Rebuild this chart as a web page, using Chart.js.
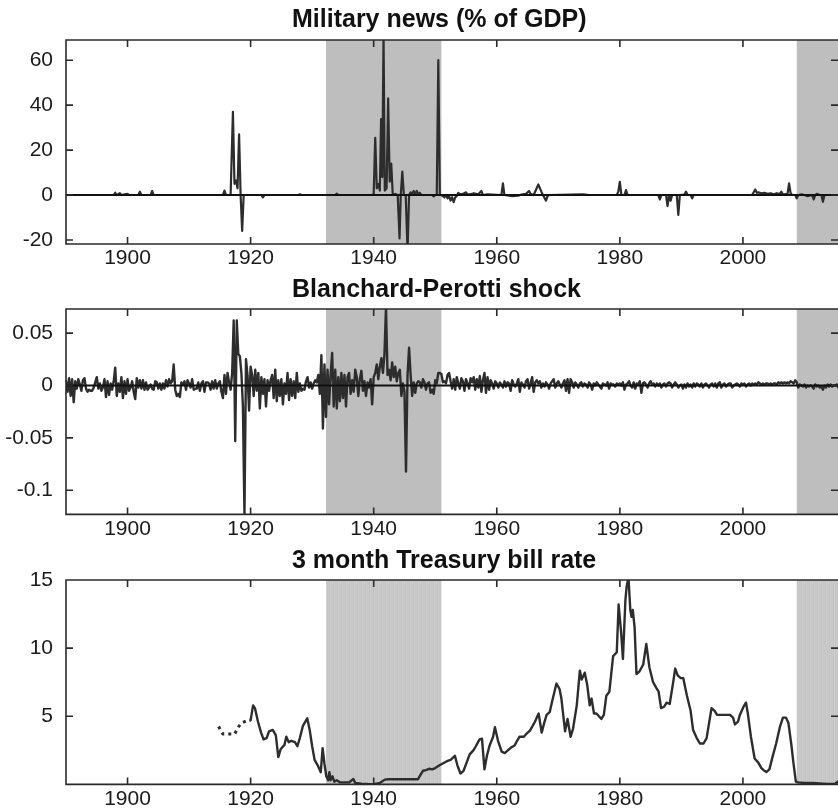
<!DOCTYPE html>
<html><head><meta charset="utf-8">
<script src="https://cdn.jsdelivr.net/npm/chart.js@4.4.1/dist/chart.umd.min.js"></script>
<style>
html,body{margin:0;padding:0;background:#fff;overflow:hidden;}
canvas{position:absolute;left:0;}
</style></head><body>
<canvas id="c1" width="838" height="270" style="top:0px"></canvas>
<canvas id="c2" width="838" height="270" style="top:270px"></canvas>
<canvas id="c3" width="838" height="270" style="top:540px"></canvas>
<script>
// ---------- shared axis data ----------
const axisMinYear = 1890;
const axisMaxYear = 2015.45;
const xTickYears = [1900, 1920, 1940, 1960, 1980, 2000];
const shadeStarts = [1932.25, 2008.75];
const shadeEnds = [1951.0, 2016];

// ---------- panel 1: Military news (% of GDP) ----------
const militaryTitle = "Military news (% of GDP)";
const militaryTicks = [-20, 0, 20, 40, 60];
const militaryRange = [-21.8, 69];
const militaryYears = [
  1890, 1897.75, 1898, 1898.25, 1898.75, 1899, 1900, 1900.25, 1901.75, 1902, 1902.25, 1903.75, 1904, 1904.25,
  1915.5, 1915.75, 1916, 1916.75, 1917.125, 1917.375, 1917.625, 1917.875, 1918.125, 1918.375, 1918.625, 1918.875,
  1921.75, 1922, 1922.25, 1927.75, 1928, 1928.25, 1933.75, 1934, 1934.25,
  1939.75, 1940, 1940.25, 1940.5, 1940.75, 1941, 1941.2, 1941.4, 1941.6, 1941.8, 1942.1, 1942.35, 1942.6, 1942.85,
  1943.1, 1943.5, 1943.9, 1944.2, 1944.4, 1944.65, 1944.9, 1945.2, 1945.5, 1945.75,
  1946, 1946.25, 1946.5, 1946.75, 1947, 1947.25, 1947.5, 1947.75, 1949.5, 1949.75, 1950, 1950.25, 1950.5, 1950.75,
  1951, 1951.5, 1951.75, 1952, 1952.25, 1952.5, 1952.75, 1953, 1953.25, 1953.5, 1953.75, 1954, 1954.5,
  1955, 1955.25, 1956, 1956.25, 1957, 1957.5, 1957.75, 1958.5, 1960.75, 1961, 1961.25, 1962.5, 1963.5, 1964,
  1964.75, 1965.25, 1965.5, 1966, 1966.75, 1967.25, 1967.5, 1967.75, 1968, 1968.25, 1968.5, 1974, 1975,
  1979.5, 1979.75, 1980, 1980.25, 1980.75, 1981, 1981.25, 1986.25, 1986.5, 1986.75, 1987.5, 1987.75, 1988,
  1988.25, 1988.5, 1989.25, 1989.5, 1989.75, 1990.5, 1990.75, 1991, 1991.5, 1991.75, 1992,
  2001.5, 2002, 2002.25, 2002.5, 2003, 2003.5, 2004, 2004.5, 2005, 2005.5, 2006, 2006.25, 2006.5, 2007.25,
  2007.5, 2007.75, 2008, 2008.5, 2008.75, 2009, 2009.5, 2010, 2010.5, 2011.25, 2011.5, 2011.75, 2012, 2012.5,
  2012.75, 2013, 2013.25, 2015.5
];
const militaryValues = [
  0, 0, 1.0, 0, 0.8, 0, 0.5, 0, 0, 1.5, 0, 0, 1.8, 0,
  0, 2, 0, 0, 37, 5, 6.5, 3, 27, 0, -16, 0,
  0, -1, 0, 0, 0.3, 0, 0, 0.6, 0,
  0, 0.5, 25.5, 3, 5, 2, 33.8, 8, 72, 2, 3, 43, 6, 14,
  0, 0.5, 0, -19.3, 0, 10.4, 0, 0, -25, 0,
  1.2, 0.5, 1.8, 0.4, 1.8, 0.3, 1.0, 0, 0, -0.6, 0, 0, 60, 0,
  0, -1, 0, -1.5, -0.5, -2.5, -1, -3.2, -1, -0.5, 1, 0.3, 0.5,
  1.2, 0.2, 0.5, 0.8, 0.3, 1.8, 0, 0.3, 0, 5.2, 0, -0.5, -0.3, 0.2,
  0.5, 1.8, 0.5, 0, 4.7, 1.5, 0, -1.2, -2.5, -0.5, 0, 0.3, 0,
  0, 1.5, 5.9, 0, 0, 2.2, 0, 0, -2, 0, 0, -4.9, 0,
  -2.5, 0, 0, -8.9, 0, 0.2, 1.5, 0, 0, -1.5, 0,
  0, 2.5, 1, 1.2, 0.8, 1, 0.5, 0.8, 0.3, 0.8, 0.4, 1.5, 0.2, 0.5,
  5.2, 0.8, 0, 0, -1.5, 0, 0.3, 0, -0.5, 0, -2, 0, 0.5, 0,
  0, -3, 0, 0
];

// ---------- panel 2: Blanchard-Perotti shock (quarterly from 1890Q1) ----------
const bpTitle = "Blanchard-Perotti shock";
const bpTicks = [-0.1, -0.05, 0, 0.05];
const bpTickLabels = ["-0.1", "-0.05", "0", "0.05"];
const bpRange = [-0.123, 0.073];
const bpStartYear = 1890;
const bpValues = [
  0.004,-0.006,0.007,-0.010, 0.006,-0.016,0.004,-0.003, 0.006,0.001,-0.005,0.005, 0.007,-0.003,-0.006,-0.004,
  -0.005,-0.005,-0.002,0.003, 0.008,-0.003,0.002,-0.005, -0.002,0.006,-0.011,0.004, -0.009,0.002,-0.004,0.004,
  0.017,-0.010,0.002,-0.006, 0.008,-0.012,0.004,-0.008, 0.006,-0.005,-0.002,0.004, -0.006,-0.013,0.007,-0.002,
  0.005,-0.003,0.005,-0.004, 0.003,-0.004,-0.002,0.001, -0.003,-0.004,0.004,0.003, -0.003,0.002,-0.004,0.002,
  -0.003,0.005,-0.001,0.006, 0.002,0.004,0.020,-0.004, -0.010,-0.008,-0.011,0.003, 0.001,0.004,-0.004,0.005,
  0.002,-0.002,0.006,-0.004, -0.003,-0.003,0.003,-0.005, 0.002,0.004,-0.006,0.003, 0.003,0.002,-0.004,0.004,
  -0.003,0.005,-0.003,0.002, 0.004,-0.006,-0.012,0.010, -0.008,0.012,0.003,-0.004, 0.012,0.062,-0.053,0.062,
  0.030,0.028,0.012,-0.020, -0.124,0.025,0.010,-0.024, 0.018,0.010,-0.010,0.015, -0.005,0.012,-0.022,0.008,
  -0.008,0.006,-0.020,0.005, -0.005,0.005,0.010,-0.012, 0.015,-0.015,0.005,-0.010, 0.006,-0.018,0.002,-0.008,
  0.012,-0.014,0.006,-0.010, 0.004,-0.012,0.012,-0.006, 0.002,-0.005,-0.003,-0.004, 0.004,0.008,-0.002,0.003,
  -0.003,0.002,0.005,0.003, 0.010,-0.008,0.029,-0.041, 0.020,-0.030,0.015,-0.018, 0.010,0.031,-0.020,0.015,
  -0.022,0.008,-0.015,0.012, -0.012,0.010,-0.020,0.008, 0.012,-0.008,0.005,-0.006, 0.015,0.008,-0.010,0.006,
  0.014,-0.005,0.004,-0.010, 0.003,-0.002,0.006,-0.018, 0.008,0.012,0.020,0.006, 0.018,0.026,0.012,0.030,
  0.075,0.010,0.015,0.005, 0.022,0.008,0.018,0.004, 0.012,0.015,-0.010,0.002, -0.006,-0.082,0.010,0.036,
  0.010,-0.010,0.003,-0.007, 0.002,0.004,0.003,-0.002, 0.006,0.003,-0.004,0.002, 0.003,-0.007,-0.004,-0.008,
  0.005,0.002,0.012,0.012, 0.011,0.003,0.004,0.002, 0.010,0.012,0.004,-0.003, 0.006,-0.004,0.008,0.002,
  -0.003,0.007,0.004,-0.005, 0.006,0.002,-0.003,0.007, 0.003,0.008,-0.004,0.006, -0.002,0.009,-0.006,0.005,
  0.012,-0.007,0.008,-0.004, 0.005,0.002,-0.003,0.004, 0.002,-0.002,0.003,0.001, -0.002,0.004,-0.001,0.003,
  0.002,-0.005,0.005,0.001, -0.001,0.002,0.006,-0.006, 0.003,0.001,-0.002,0.004, 0.006,-0.003,0.002,0.008,
  -0.006,0.003,0.005,0.002, 0.004,-0.002,0.002,-0.001, 0.003,0.001,-0.003,0.002, 0.004,0.006,-0.002,0.002,
  0.004,0.001,-0.002,0.002, 0.005,-0.005,0.006,-0.007, 0.006,0.003,-0.002,0.003, 0.001,-0.002,0.002,0.003,
  -0.001,0.002,0.001,-0.002, 0.003,0.001,-0.004,0.002, 0.000,0.003,0.001,-0.001, -0.003,0.002,0.001,0.000,
  0.003,-0.003,0.002,0.001, 0.001,-0.001,0.002,0.001, 0.002,0.000,0.003,-0.004, 0.001,0.002,0.004,0.000,
  -0.002,0.003,-0.003,0.002, 0.001,0.004,-0.007,0.002, 0.003,0.001,-0.002,0.002, 0.004,0.001,0.002,-0.001,
  0.002,0.000,0.002,-0.002, 0.001,0.002,-0.001,0.002, 0.003,0.002,-0.002,0.001, 0.003,0.001,-0.002,0.000,
  0.001,-0.003,0.001,-0.002, 0.002,-0.001,0.001,-0.002, 0.002,-0.001,0.002,0.001, -0.001,0.002,-0.002,0.001,
  0.002,0.000,-0.002,0.001, 0.002,-0.001,0.002,-0.002, 0.002,0.003,-0.002,0.001, 0.002,-0.001,0.001,0.002,
  0.002,-0.002,0.000,0.001, 0.002,0.001,-0.001,0.002, 0.001,0.002,-0.001,0.001, 0.002,0.000,0.002,0.001,
  0.002,0.001,0.003,0.002, 0.001,0.002,0.001,0.002, 0.002,0.001,0.002,0.001, 0.002,0.002,0.001,0.003,
  0.002,0.003,0.002,0.003, 0.002,0.003,0.002,0.004, 0.003,0.002,0.005,0.003, -0.002,0.001,0.000,-0.001,
  0.001,-0.002,0.000,-0.001, 0.000,-0.001,-0.003,0.001, -0.001,0.000,-0.002,-0.001, -0.004,0.000,-0.002,0.001,
  -0.001,0.001,-0.001,0.000, 0.000,0.001,-0.002,0.002
];

// ---------- panel 3: 3 month Treasury bill rate ----------
const tbTitle = "3 month Treasury bill rate";
const tbTicks = [5, 10, 15];
const tbRange = [0, 15];
const tbDottedYears = [1914.8, 1915.2, 1915.5, 1916.5, 1917.4, 1918.0, 1918.5, 1919.5, 1920.0];
const tbDottedValues = [4.25, 3.9, 3.7, 3.7, 3.7, 4.2, 4.5, 4.7, 4.7];
const tbYears = [
  1920.0, 1920.4, 1920.7, 1921.2, 1921.7, 1922.1, 1922.6, 1923.0, 1923.6, 1924.1, 1924.5, 1924.9, 1925.5, 1925.8,
  1926.2, 1926.6, 1927.2, 1927.6, 1928.0, 1928.5, 1929.2, 1929.6, 1930.0, 1930.4, 1930.9, 1931.4, 1931.7, 1932.0,
  1932.3, 1932.6, 1932.8, 1933.0, 1933.3, 1933.6, 1934, 1934.5, 1935, 1936, 1936.7, 1937, 1938, 1939, 1940, 1941,
  1941.8, 1942.3, 1947.2, 1947.6, 1948, 1948.5, 1949, 1949.5, 1950, 1950.7, 1951.3, 1951.9, 1952.5, 1953.2,
  1953.6, 1954.1, 1954.6, 1955.1, 1955.6, 1956.2, 1956.6, 1957.2, 1957.6, 1958.0, 1958.4, 1958.8, 1959.4, 1959.7,
  1960.2, 1960.8, 1961.3, 1961.8, 1962.3, 1962.9, 1963.3, 1963.7, 1964.4, 1964.8, 1965.4, 1966.2, 1966.8, 1967.3,
  1967.7, 1968.1, 1968.6, 1969.0, 1969.7, 1970.2, 1970.5, 1971.1, 1971.5, 1972.0, 1972.4, 1973.0, 1973.5, 1973.8,
  1974.3, 1974.7, 1975.1, 1975.4, 1975.8, 1976.2, 1977.0, 1977.4, 1977.8, 1978.3, 1978.9, 1979.5, 1979.8, 1980.2,
  1980.5, 1980.9, 1981.1, 1981.4, 1981.7, 1981.9, 1982.1, 1982.4, 1982.7, 1983.2, 1983.8, 1984.3, 1984.8, 1985.4,
  1985.9, 1986.3, 1986.7, 1987.2, 1987.6, 1988.1, 1988.6, 1989.0, 1989.4, 1989.9, 1990.3, 1990.9, 1991.5, 1991.9,
  1992.5, 1993.0, 1993.6, 1994.1, 1994.5, 1994.9, 1995.4, 1995.8, 1996.1, 1996.8, 1997.5, 1997.9, 1998.4, 1998.7,
  1999.2, 1999.5, 2000.1, 2000.5, 2000.8, 2001.3, 2001.9, 2002.5, 2003.0, 2003.5, 2003.8, 2004.3, 2004.8, 2005.4,
  2006.0, 2006.5, 2007.0, 2007.4, 2007.9, 2008.2, 2008.6, 2009, 2010, 2011, 2012, 2013, 2014, 2015, 2015.4
];
const tbValues = [
  4.7, 5.8, 5.6, 4.6, 3.8, 3.3, 3.4, 3.9, 4.0, 3.6, 2.0, 2.6, 2.9, 3.5,
  3.1, 3.2, 3.1, 2.8, 3.4, 4.3, 4.85, 4.0, 2.8, 1.8, 1.4, 0.9, 2.66, 1.5,
  0.6, 0.3, 0.9, 0.3, 0.6, 0.2, 0.3, 0.15, 0.15, 0.15, 0.4, 0.1, 0.05, 0.03, 0.02, 0.1,
  0.35, 0.375, 0.375, 0.7, 1.0, 1.05, 1.15, 1.1, 1.2, 1.4, 1.55, 1.7, 1.8, 2.1,
  1.4, 0.8, 1.0, 1.6, 2.2, 2.5, 2.8, 3.3, 3.35, 1.1, 2.1, 2.8, 3.5, 4.2,
  3.2, 2.4, 2.3, 2.5, 2.7, 2.85, 3.2, 3.5, 3.5, 3.7, 3.95, 4.6, 5.2, 3.8,
  4.5, 5.1, 5.3, 6.1, 7.4, 7.0, 6.3, 3.9, 4.8, 3.5, 4.1, 5.8, 8.35, 7.7,
  8.2, 7.3, 5.8, 6.3, 5.2, 5.2, 4.8, 5.1, 6.5, 6.8, 9.4, 9.7, 13.2, 11.2,
  9.2, 13.5, 14.5, 15.2, 12.8, 12.3, 12.8, 11.5, 8.1, 8.3, 8.8, 10.3, 8.6, 7.5,
  7.1, 6.8, 5.6, 5.7, 6.0, 5.9, 7.3, 8.5, 8.0, 7.8, 7.8, 6.5, 5.4, 4.0,
  3.4, 3.0, 3.0, 3.4, 4.5, 5.6, 5.4, 5.1, 5.1, 5.1, 5.1, 5.1, 4.9, 4.4,
  4.6, 5.1, 5.7, 6.0, 5.2, 3.5, 1.9, 1.6, 1.2, 1.0, 0.9, 1.1, 2.0, 3.0,
  4.2, 4.9, 4.9, 4.5, 2.8, 1.6, 0.2, 0.15, 0.1, 0.1, 0.08, 0.06, 0.04, 0.05, 0.2
];

// ---------- styling ----------
const FONT = "'Liberation Sans', Arial, Helvetica, sans-serif";
const LINE = '#2d2d2d';
const TEXT = '#1a1a1a';

function stripePattern() {
  const c = document.createElement('canvas');
  c.width = 4; c.height = 1;
  const g = c.getContext('2d');
  const cols = ['#c9c9c9', '#c3c3c3', '#cdcdcd', '#c6c6c6'];
  cols.forEach((col, i) => { g.fillStyle = col; g.fillRect(i, 0, 1, 1); });
  return g.createPattern(c, 'repeat');
}

const shadePlugin = {
  id: 'shade',
  beforeDatasetsDraw(chart, args, opts) {
    const { ctx, chartArea: a, scales: { x } } = chart;
    ctx.save();
    ctx.fillStyle = opts.striped ? stripePattern() : '#bebebe';
    shadeStarts.forEach((s, i) => {
      const x1 = Math.max(a.left, x.getPixelForValue(s));
      const x2 = Math.min(a.right, x.getPixelForValue(shadeEnds[i]));
      ctx.fillRect(x1, a.top, x2 - x1, a.bottom - a.top);
    });
    ctx.restore();
  }
};

const framePlugin = {
  id: 'frame',
  afterDatasetsDraw(chart) {
    const { ctx, chartArea: a, scales: { x, y } } = chart;
    ctx.save();
    ctx.strokeStyle = '#2a2a2a';
    ctx.lineWidth = 1.6;
    ctx.beginPath();
    ctx.moveTo(a.right, a.top); ctx.lineTo(a.left, a.top);
    ctx.lineTo(a.left, a.bottom); ctx.lineTo(a.right, a.bottom);
    const L = 7;
    x.ticks.forEach(t => {
      const px = x.getPixelForValue(t.value);
      ctx.moveTo(px, a.bottom); ctx.lineTo(px, a.bottom - L);
      ctx.moveTo(px, a.top); ctx.lineTo(px, a.top + L);
    });
    y.ticks.forEach(t => {
      const py = y.getPixelForValue(t.value);
      ctx.moveTo(a.left, py); ctx.lineTo(a.left + L, py);
      ctx.moveTo(a.right, py); ctx.lineTo(a.right - L, py);
    });
    ctx.stroke();
    ctx.restore();
  }
};

const titlePlugin = {
  id: 'panelTitle',
  afterDraw(chart, args, opts) {
    const ctx = chart.ctx;
    ctx.save();
    ctx.font = 'bold 25px ' + FONT;
    ctx.fillStyle = '#111';
    ctx.textAlign = 'left';
    ctx.textBaseline = 'middle';
    ctx.fillText(opts.text, 292, opts.y);
    ctx.restore();
  }
};

function makePanel(id, cfg) {
  return new Chart(document.getElementById(id), {
    type: 'line',
    data: { datasets: cfg.datasets },
    plugins: [shadePlugin, framePlugin, titlePlugin],
    options: {
      responsive: false,
      animation: false,
      events: [],
      layout: { padding: { top: cfg.top, left: 0, right: 0, bottom: 0 } },
      elements: { point: { radius: 0 }, line: { tension: 0, borderJoinStyle: 'round', borderCapStyle: 'round' } },
      plugins: {
        legend: { display: false },
        tooltip: { enabled: false },
        shade: { striped: !!cfg.striped },
        panelTitle: { text: cfg.title, y: cfg.titleY }
      },
      scales: {
        x: {
          type: 'linear', min: axisMinYear, max: axisMaxYear,
          grid: { display: false, drawTicks: false },
          border: { display: false },
          afterBuildTicks: ax => { ax.ticks = xTickYears.map(v => ({ value: v })); },
          afterFit: ax => { ax.height = cfg.xh; },
          ticks: { font: { family: FONT, size: 21 }, color: TEXT, padding: 2, maxRotation: 0,
                   callback: v => String(v) }
        },
        y: {
          type: 'linear', min: cfg.range[0], max: cfg.range[1],
          grid: { display: false, drawTicks: false },
          border: { display: false },
          afterBuildTicks: ax => { ax.ticks = cfg.ticks.map(v => ({ value: v })); },
          afterFit: ax => { ax.width = 66; },
          ticks: { font: { family: FONT, size: 21 }, color: TEXT, padding: 13,
                   callback: v => cfg.labels ? cfg.labels[cfg.ticks.indexOf(v)] : String(v) }
        }
      }
    }
  });
}

const zeroLine = [{ x: axisMinYear, y: 0 }, { x: 2016, y: 0 }];

makePanel('c1', {
  title: militaryTitle, titleY: 20, top: 40, xh: 26,
  range: militaryRange, ticks: militaryTicks,
  datasets: [
    { data: zeroLine, borderColor: '#111', borderWidth: 1.8 },
    { data: militaryYears.map((yr, i) => ({ x: yr, y: militaryValues[i] })), borderColor: LINE, borderWidth: 2.2 }
  ]
});

makePanel('c2', {
  title: bpTitle, titleY: 20, top: 39, xh: 23.3,
  range: bpRange, ticks: bpTicks, labels: bpTickLabels,
  datasets: [
    { data: zeroLine, borderColor: '#111', borderWidth: 1.8 },
    { data: bpValues.map((v, i) => ({ x: bpStartYear + i * 0.25, y: v })), borderColor: LINE, borderWidth: 2.4 }
  ]
});

makePanel('c3', {
  title: tbTitle, titleY: 20.7, top: 40, xh: 24.3, striped: true,
  range: tbRange, ticks: tbTicks,
  datasets: [
    { data: tbDottedYears.map((yr, i) => ({ x: yr, y: tbDottedValues[i] })), borderColor: LINE, borderWidth: 3,
      borderDash: [3, 4], borderCapStyle: 'butt' },
    { data: tbYears.map((yr, i) => ({ x: yr, y: tbValues[i] })), borderColor: LINE, borderWidth: 2.4 }
  ]
});
</script>
</body></html>
